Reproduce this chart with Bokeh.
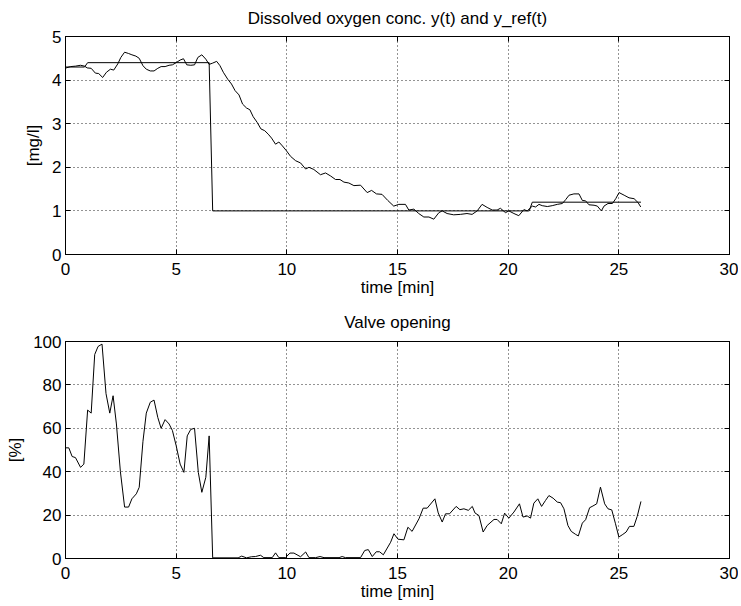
from bokeh.plotting import figure
from bokeh.layouts import column
from bokeh.models import Range1d, LinearAxis, FixedTicker
from bokeh.embed import file_html
from bokeh.resources import INLINE

# ---- data ----
t_y = [0, 0.23, 0.45, 0.68, 0.86, 0.98, 1.16, 1.35, 1.5, 1.68, 1.85, 2.03, 2.18, 2.36, 2.5,
       2.67, 2.85, 3.0, 3.18, 3.33, 3.5, 3.65, 3.83, 4.0, 4.17, 4.32, 4.5, 4.68, 4.83, 5.0,
       5.18, 5.33, 5.48, 5.66, 5.83, 5.98, 6.16, 6.34, 6.49, 6.65, 6.83, 6.98, 7.13, 7.33,
       7.5, 7.66, 7.84, 8.0, 8.18, 8.33, 8.48, 8.66, 8.83, 9.0, 9.16, 9.31, 9.49, 9.64, 9.8,
       9.98, 10.17, 10.4, 10.62, 10.85, 11.0, 11.22, 11.52, 11.75, 11.98, 12.2, 12.4, 12.58,
       12.8, 13.03, 13.33, 13.63, 13.83, 14.05, 14.3, 14.56, 14.83, 15.06, 15.36, 15.51,
       15.74, 15.96, 16.19, 16.42, 16.64, 16.87, 17.02, 17.24, 17.54, 17.84, 18.14, 18.37,
       18.6, 18.82, 19.05, 19.28, 19.5, 19.65, 19.88, 20.03, 20.26, 20.48, 20.71, 20.86,
       21.09, 21.24, 21.39, 21.54, 21.77, 21.99, 22.22, 22.45, 22.6, 22.75, 22.97, 23.2,
       23.35, 23.5, 23.65, 23.88, 24.03, 24.21, 24.33, 24.51, 24.71, 24.86, 25.01, 25.24,
       25.46, 25.69, 25.87, 25.99]
y_val = [4.275, 4.31, 4.32, 4.34, 4.32, 4.28, 4.27, 4.16, 4.15, 4.06, 4.18, 4.25, 4.23, 4.37, 4.52,
         4.64, 4.61, 4.58, 4.55, 4.5, 4.33, 4.25, 4.21, 4.21, 4.27, 4.31, 4.31, 4.34, 4.35, 4.4,
         4.46, 4.49, 4.35, 4.34, 4.35, 4.52, 4.58, 4.48, 4.36, 4.39, 4.43, 4.33, 4.18, 4.02,
         3.91, 3.76, 3.66, 3.45, 3.36, 3.32, 3.16, 3.03, 2.88, 2.84, 2.76, 2.67, 2.53, 2.58, 2.49,
         2.38, 2.25, 2.15, 2.1, 1.96, 2.0, 1.95, 1.83, 1.87, 1.8, 1.72, 1.72, 1.66,
         1.64, 1.58, 1.59, 1.42, 1.47, 1.39, 1.38, 1.24, 1.11, 1.15, 1.15, 1.02,
         1.04, 0.94, 0.86, 0.86, 0.81, 0.96, 1.0, 0.94, 0.91, 0.92, 0.94, 0.92,
         1.0, 1.15, 1.08, 1.02, 1.02, 1.06, 0.96, 1.0, 0.94, 0.89, 1.03, 1.0,
         1.11, 1.09, 1.15, 1.12, 1.1, 1.12, 1.15, 1.17, 1.26, 1.36, 1.39, 1.39,
         1.24, 1.23, 1.14, 1.13, 1.11, 1.0, 1.11, 1.17, 1.17, 1.28, 1.42, 1.36,
         1.3, 1.28, 1.19, 1.09]

t_ref = [0, 0.86, 1.0, 6.49, 6.65, 20.95, 21.09, 26.0]
y_ref = [4.3, 4.3, 4.4, 4.4, 1.0, 1.0, 1.2, 1.2]

t_u = [0, 0.15, 0.3, 0.45, 0.68, 0.83, 1.0, 1.16, 1.32, 1.47, 1.65, 1.83, 2.0, 2.15, 2.3, 2.48,
       2.67, 2.85, 3.0, 3.2, 3.33, 3.5, 3.65, 3.83, 4.0, 4.17, 4.32, 4.5, 4.68, 4.83, 5.0, 5.18,
       5.35, 5.5, 5.66, 5.83, 6.0, 6.16, 6.34, 6.49, 6.65, 7.8, 7.96, 8.18, 8.4, 8.58, 8.81,
       8.96, 9.34, 9.49, 9.64, 9.94, 10.14, 10.32, 10.62, 10.85, 11.0, 11.3, 11.5, 11.68,
       12.36, 12.5, 12.65, 13.33, 13.52, 13.68, 13.86, 14.04, 14.19, 14.36, 14.69, 14.84,
       15.02, 15.29, 15.47, 15.66, 15.97, 16.16, 16.34, 16.69, 16.84, 17.02, 17.17, 17.35,
       17.65, 17.82, 18.0, 18.2, 18.38, 18.5, 18.68, 18.87, 19.05, 19.36, 19.5, 19.69, 19.84,
       20.03, 20.26, 20.51, 20.67, 20.86, 21.01, 21.16, 21.34, 21.51, 21.69, 21.84, 22.03,
       22.22, 22.37, 22.52, 22.7, 22.85, 23.05, 23.17, 23.35, 23.5, 23.68, 23.83, 24.0, 24.17,
       24.36, 24.51, 24.68, 24.85, 25.0, 25.18, 25.33, 25.48, 25.68, 25.83, 26.0]
u_val = [51, 51, 47, 46.5, 42, 43.5, 68.4, 67, 94, 97.7, 98.8, 76, 67, 75, 62, 40,
         23.7, 23.7, 27.5, 29.8, 32.8, 54, 67, 72, 73, 65, 60, 64, 62, 59, 52, 43.5,
         39.7, 56.5, 59.5, 60, 39.7, 30.5, 37.4, 56.5, 0.3, 0.3, 1.1, 0.3, 0.8, 0.9, 1.5,
         0.4, 0.4, 2.6, 0.4, 0.4, 2.5, 2.5, 0.8, 3.0, 0.4, 0.4, 0.9, 0.4,
         0.4, 0.9, 0.4, 0.4, 3.7, 4.1, 0.9, 3.1, 3.1, 1.7, 7.5, 11.4,
         8.9, 8.6, 14.4, 12.5, 18.3, 23.2, 23.2, 27.5, 21, 16.8, 20.6, 20.6,
         24, 22.5, 22.9, 22.2, 24, 21, 19.8, 12.2, 15.2, 18.0, 18.0, 16.0, 20.9,
         18.6, 21.4, 25.2, 19.1, 19.6, 18.6, 25.5, 27.5, 24, 26.8, 29.0, 27.8,
         26, 25.7, 22.9, 15.2, 12.5, 11.1, 10.4, 16.3, 17.9, 23.4, 24.2, 25.2, 32.9,
         25.2, 22.9, 22.4, 16.0, 9.9, 11.1, 12.2, 14.8, 14.8, 19.4, 26.3]

x_ticks = [0, 5, 10, 15, 20, 25, 30]
y1_ticks = [0, 1, 2, 3, 4, 5]
y2_ticks = [0, 20, 40, 60, 80, 100]

FONT = "Liberation Sans"
FS = "17px"


def style(p, xt, yt, ylabel, ylabel_standoff, title_standoff):
    p.title.align = "center"
    p.title.vertical_align = "top"
    p.title.text_font = FONT
    p.title.text_font_size = FS
    p.title.text_font_style = "normal"
    p.title.text_color = "black"
    p.title.standoff = title_standoff
    p.outline_line_color = "black"
    p.outline_line_width = 1
    p.outline_line_alpha = 1
    for g, t in ((p.xgrid[0], xt), (p.ygrid[0], yt)):
        g.ticker = FixedTicker(ticks=t)
        g.grid_line_color = "black"
        g.grid_line_dash = "1 3"
        g.grid_line_width = 1
        g.grid_line_alpha = 0.85
    for ax, t in ((p.xaxis[0], xt), (p.yaxis[0], yt)):
        ax.ticker = FixedTicker(ticks=t)
        ax.major_tick_in = 5
        ax.major_tick_out = 0
        ax.minor_tick_line_color = None
        ax.axis_line_color = "black"
        ax.major_tick_line_color = "black"
        ax.major_label_text_font = FONT
        ax.major_label_text_font_size = FS
        ax.major_label_text_color = "black"
        ax.axis_label_text_font = FONT
        ax.axis_label_text_font_size = FS
        ax.axis_label_text_font_style = "normal"
        ax.axis_label_text_color = "black"
    p.xaxis[0].axis_label = "time [min]"
    p.xaxis[0].axis_label_standoff = 0
    p.xaxis[0].major_label_standoff = 8
    p.yaxis[0].axis_label = ylabel
    p.yaxis[0].axis_label_standoff = ylabel_standoff
    p.yaxis[0].major_label_standoff = 4
    # box ticks on top and right (labels not drawn)
    for side, t in (("above", xt), ("right", yt)):
        a = LinearAxis(ticker=FixedTicker(ticks=t), major_tick_in=5, major_tick_out=0,
                       minor_tick_line_color=None, axis_line_color="black",
                       major_tick_line_color="black", major_label_text_color=None,
                       major_label_text_font_size="1px", major_label_standoff=0)
        p.add_layout(a, side)


p1 = figure(width=738, height=301, output_backend="svg", toolbar_location=None,
            x_range=Range1d(0, 30), y_range=Range1d(0, 5),
            title="Dissolved oxygen conc. y(t) and y_ref(t)",
            min_border_left=65, min_border_right=9, min_border_top=36, min_border_bottom=47)
p1.line(t_ref, y_ref, line_color="black", line_width=1)
p1.line(t_y, y_val, line_color="black", line_width=1)
style(p1, x_ticks, y1_ticks, "[mg/l]", 6, 14)

p2 = figure(width=738, height=304, output_backend="svg", toolbar_location=None,
            x_range=Range1d(0, 30), y_range=Range1d(0, 100),
            title="Valve opening",
            min_border_left=65, min_border_right=9, min_border_top=40, min_border_bottom=47)
p2.line(t_u, u_val, line_color="black", line_width=1)
style(p2, x_ticks, y2_ticks, "[%]", 5, 15)

layout = column(p1, p2, spacing=0)
open("out.html", "w").write(file_html(layout, INLINE))
